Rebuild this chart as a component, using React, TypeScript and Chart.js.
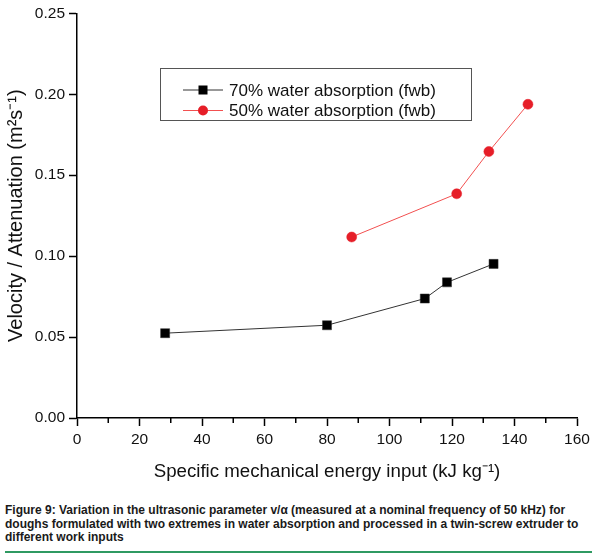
import React, { useEffect, useRef } from "react";
import { Chart, registerables } from "chart.js";

Chart.register(...registerables);

const series70X = [28.2, 80.0, 111.3, 118.4, 133.3];
const series70Y = [0.0524, 0.0573, 0.0738, 0.0838, 0.0952];
const series50X = [87.9, 121.5, 131.8, 144.3];
const series50Y = [0.1118, 0.1385, 0.1646, 0.1938];
const label70 = "70% water absorption (fwb)";
const label50 = "50% water absorption (fwb)";
const xTitle = "Specific mechanical energy input (kJ kg\u207B\u00B9)";
const yTitle = "Velocity / Attenuation (m\u00B2s\u207B\u00B9)";
const xMin = 0, xMax = 160, xStep = 20;
const yMin = 0, yMax = 0.25, yStep = 0.05;
const minorXTicks = [10, 30, 50, 70, 90, 110, 130, 150];
const captionLines = [
  "Figure 9: Variation in the ultrasonic parameter v/\u03B1 (measured at a nominal frequency of 50 kHz) for",
  "doughs formulated with two extremes in water absorption and processed in a twin-screw extruder to",
  "different work inputs",
];

const FONT = "'Liberation Sans', Arial, Helvetica, sans-serif";

const minorTickPlugin = {
  id: "minorTicks",
  afterDraw(chart: any) {
    const { ctx, chartArea, scales } = chart;
    ctx.save();
    ctx.strokeStyle = "#000";
    ctx.lineWidth = 1.5;
    minorXTicks.forEach((v) => {
      const x = scales.x.getPixelForValue(v);
      ctx.beginPath();
      ctx.moveTo(x, chartArea.bottom);
      ctx.lineTo(x, chartArea.bottom + 5);
      ctx.stroke();
    });
    ctx.restore();
  },
};

const legendBoxPlugin = {
  id: "legendBox",
  afterDraw(chart: any) {
    const { ctx } = chart;
    const bx = 160.5, by = 68.5, bw = 311, bh = 52;
    ctx.save();
    ctx.strokeStyle = "#555";
    ctx.lineWidth = 1;
    ctx.fillStyle = "#fff";
    ctx.fillRect(bx, by, bw, bh);
    ctx.strokeRect(bx, by, bw, bh);
    ctx.font = `17px ${FONT}`;
    ctx.textBaseline = "middle";
    chart.data.datasets.forEach((ds: any, i: number) => {
      const cy = 90 + i * 20.5;
      ctx.strokeStyle = ds.borderColor;
      ctx.lineWidth = 1;
      ctx.beginPath();
      ctx.moveTo(183, cy);
      ctx.lineTo(223, cy);
      ctx.stroke();
      ctx.fillStyle = ds.pointBackgroundColor;
      if (ds.pointStyle === "rect") {
        ctx.fillRect(198.5, cy - 4.5, 9, 9);
      } else {
        ctx.beginPath();
        ctx.arc(203, cy, 5, 0, Math.PI * 2);
        ctx.fill();
      }
      ctx.fillStyle = "#111";
      ctx.fillText(ds.label, 229, cy + 1);
    });
    ctx.restore();
  },
};

export default function App() {
  const canvasRef = useRef<HTMLCanvasElement>(null);

  useEffect(() => {
    document.body.style.margin = "0";
    const canvas = canvasRef.current!;
    const chart = new Chart(canvas, {
      type: "scatter",
      data: {
        datasets: [
          {
            label: label70,
            data: series70X.map((x, i) => ({ x, y: series70Y[i] })),
            showLine: true,
            borderColor: "#333",
            borderWidth: 1,
            pointStyle: "rect",
            pointRadius: 6.4,
            pointBackgroundColor: "#000",
            pointBorderColor: "#333",
            pointBorderWidth: 0.5,
          } as any,
          {
            label: label50,
            data: series50X.map((x, i) => ({ x, y: series50Y[i] })),
            showLine: true,
            borderColor: "#f25050",
            borderWidth: 1,
            pointStyle: "circle",
            pointRadius: 5,
            pointBackgroundColor: "#e61e28",
            pointBorderColor: "#e61e28",
            pointBorderWidth: 0.5,
          } as any,
        ],
      },
      options: {
        responsive: false,
        animation: false,
        layout: { padding: { top: 13, right: 23, left: 0, bottom: 0 } },
        plugins: {
          legend: { display: false },
          tooltip: { enabled: false },
        },
        scales: {
          x: {
            type: "linear",
            min: xMin,
            max: xMax,
            afterFit: (s: any) => {
              s.height = 72;
            },
            ticks: {
              stepSize: xStep,
              color: "#111",
              font: { size: 15.5, family: FONT },
              padding: 4,
              maxRotation: 0,
            },
            grid: {
              drawOnChartArea: false,
              drawTicks: true,
              tickLength: 8,
              tickColor: "#000",
              tickWidth: 1.5,
            },
            border: { display: true, color: "#000", width: 1.5 },
            title: {
              display: true,
              text: xTitle,
              color: "#111",
              font: { size: 18.7, family: FONT },
              padding: { top: 0, bottom: 7 },
            },
          },
          y: {
            type: "linear",
            min: yMin,
            max: yMax,
            afterFit: (s: any) => {
              s.width = 77;
            },
            ticks: {
              stepSize: yStep,
              color: "#111",
              font: { size: 15.5, family: FONT },
              padding: 4,
              callback: (v: any) => Number(v).toFixed(2),
            },
            grid: {
              drawOnChartArea: false,
              drawTicks: true,
              tickLength: 8,
              tickColor: "#000",
              tickWidth: 1.5,
            },
            border: { display: true, color: "#000", width: 1.5 },
            title: {
              display: true,
              text: yTitle,
              color: "#111",
              font: { size: 20, family: FONT },
              padding: { top: 4, bottom: 0 },
            },
          },
        },
      },
      plugins: [minorTickPlugin, legendBoxPlugin],
    });
    return () => chart.destroy();
  }, []);

  return (
    <div style={{ position: "relative", width: 600, height: 554, background: "#fff", overflow: "hidden" }}>
      <canvas ref={canvasRef} width={600} height={490} style={{ position: "absolute", left: 0, top: 0 }} />
      <div
        style={{
          position: "absolute",
          left: 5,
          top: 504,
          fontFamily: "'Liberation Sans Narrow', 'Liberation Sans', Arial, sans-serif",
          fontWeight: "bold",
          fontSize: 12,
          lineHeight: "13.5px",
          color: "#1a1a1a",
          whiteSpace: "nowrap",
        }}
      >
        {captionLines.map((l, i) => (
          <div key={i}>{l}</div>
        ))}
      </div>
      <div
        style={{
          position: "absolute",
          left: 5,
          top: 551,
          width: 587,
          height: 2,
          background: "#2f9a62",
        }}
      />
    </div>
  );
}
